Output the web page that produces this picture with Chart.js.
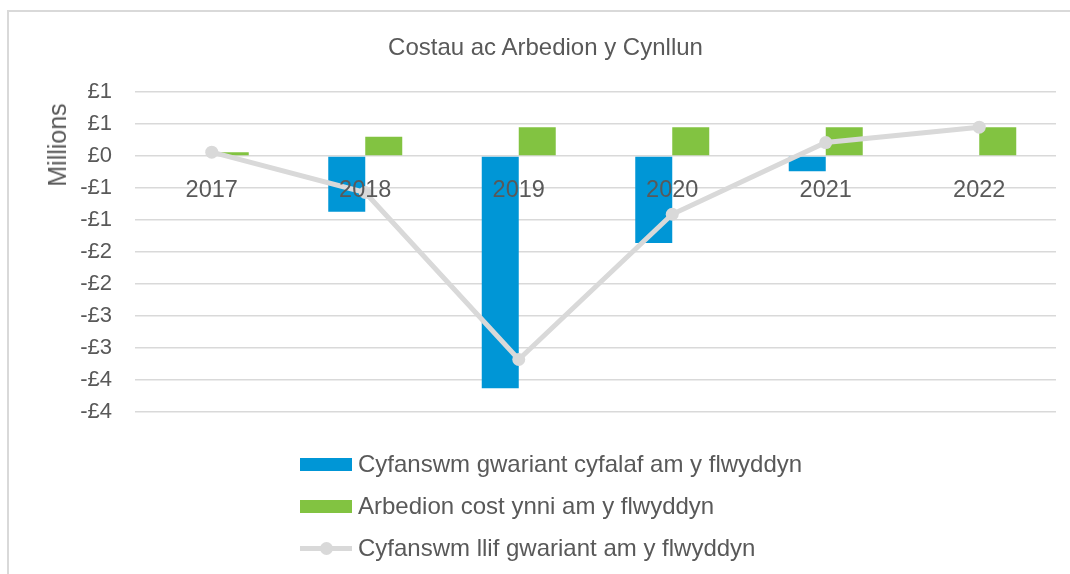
<!DOCTYPE html>
<html>
<head>
<meta charset="utf-8">
<script src="https://cdn.jsdelivr.net/npm/chart.js@4"></script>
<style>
  body { margin: 0; background: #fff; font-family: "Liberation Sans", Arial, sans-serif; color: #595959; }
  #wrap { position: relative; width: 1070px; height: 574px; overflow: hidden; }
  #frame { position: absolute; left: 7px; top: 10px; width: 1200px; height: 700px;
           border-left: 2px solid #d9d9d9; border-top: 2px solid #d9d9d9; }
  #title { position: absolute; left: 0; width: 1091px; top: 32px; text-align: center; font-size: 24px; line-height: 30px; }
  #ytitle { position: absolute; left: 57px; top: 145px; font-size: 25px; line-height: 28px;
            transform: translate(-50%, -50%) rotate(-90deg); white-space: nowrap; }
  #chart { position: absolute; left: 0; top: 0; }
  .leg { position: absolute; left: 300px; height: 30px; font-size: 24px; line-height: 30px; white-space: nowrap; }
  .sw { position: absolute; left: 0; top: 9px; width: 52px; height: 13px; }
  .ln { position: absolute; left: 0; top: 13px; width: 52px; height: 5px; background: #d9d9d9; }
  .dot { position: absolute; left: 20px; top: 9px; width: 13px; height: 13px; border-radius: 50%; background: #d9d9d9; }
  .lt { position: absolute; left: 58px; top: 0; }
</style>
</head>
<body>
<div id="wrap">
  <div id="frame"></div>
  <canvas id="chart" width="1070" height="574"></canvas>
  <div id="title">Costau ac Arbedion y Cynllun</div>
  <div id="ytitle">Millions</div>
  <div id="legend"></div>
</div>
<script>
// Data (millions of pounds)
const years = ['2017', '2018', '2019', '2020', '2021', '2022'];
const capitalSpend = [0, -0.87, -3.63, -1.36, -0.24, 0];
const energySavings = [0.06, 0.30, 0.45, 0.45, 0.45, 0.45];
const netFlow = [0.06, -0.57, -3.18, -0.91, 0.21, 0.45];
const seriesNames = [
    'Cyfanswm gwariant cyfalaf am y flwyddyn',
    'Arbedion cost ynni am y flwyddyn',
    'Cyfanswm llif gwariant am y flwyddyn'
];

const BLUE = '#0096d6';
const GREEN = '#82c341';
const GREY = '#d9d9d9';
const TEXT = '#595959';

function poundLabel(v) {
    const sign = v < 0 ? '-' : '';
    return sign + '£' + Math.round(Math.abs(v));
}

const ctx = document.getElementById('chart').getContext('2d');
new Chart(ctx, {
    data: {
        labels: years,
        datasets: [
            {
                type: 'bar',
                label: seriesNames[0],
                data: capitalSpend,
                backgroundColor: BLUE,
                order: 1
            },
            {
                type: 'bar',
                label: seriesNames[1],
                data: energySavings,
                backgroundColor: GREEN,
                order: 1
            },
            {
                type: 'line',
                label: seriesNames[2],
                data: netFlow,
                borderColor: GREY,
                backgroundColor: GREY,
                borderWidth: 5,
                pointRadius: 6.5,
                pointBorderWidth: 0,
                pointBackgroundColor: GREY,
                tension: 0,
                order: 0
            }
        ]
    },
    options: {
        responsive: false,
        animation: false,
        layout: { padding: { top: 92, bottom: 162, left: 0, right: 14 } },
        datasets: {
            bar: { categoryPercentage: 0.482, barPercentage: 1 }
        },
        plugins: {
            legend: { display: false },
            title: { display: false },
            tooltip: { enabled: false }
        },
        scales: {
            x: {
                position: { y: 0 },
                grid: { display: false },
                border: { display: false },
                ticks: {
                    z: 1, // year labels sit on top of the bars
                    color: TEXT,
                    padding: 12,
                    font: { family: 'Liberation Sans', size: 23.5 }
                },
                afterFit: (scale) => { scale.height = 0; }
            },
            y: {
                min: -4,
                max: 1,
                grid: { color: GREY, lineWidth: 1.5, drawTicks: false },
                border: { display: false },
                ticks: {
                    stepSize: 0.5,
                    color: TEXT,
                    padding: 23,
                    font: { family: 'Liberation Sans', size: 22 },
                    callback: (v) => poundLabel(v)
                },
                afterFit: (scale) => { scale.width = 135; }
            }
        }
    }
});

// Legend (vertical, as in the original)
const legendRows = [
    { kind: 'box', color: BLUE, center: 464 },
    { kind: 'box', color: GREEN, center: 506 },
    { kind: 'line', color: GREY, center: 548 }
];
document.getElementById('legend').innerHTML = legendRows.map((row, i) => `
    <div class="leg" style="top:${row.center - 15}px">
        ${row.kind === 'box'
            ? `<div class="sw" style="background:${row.color}"></div>`
            : `<div class="ln"></div><div class="dot"></div>`}
        <span class="lt">${seriesNames[i]}</span>
    </div>
`).join('');
</script>
</body>
</html>
